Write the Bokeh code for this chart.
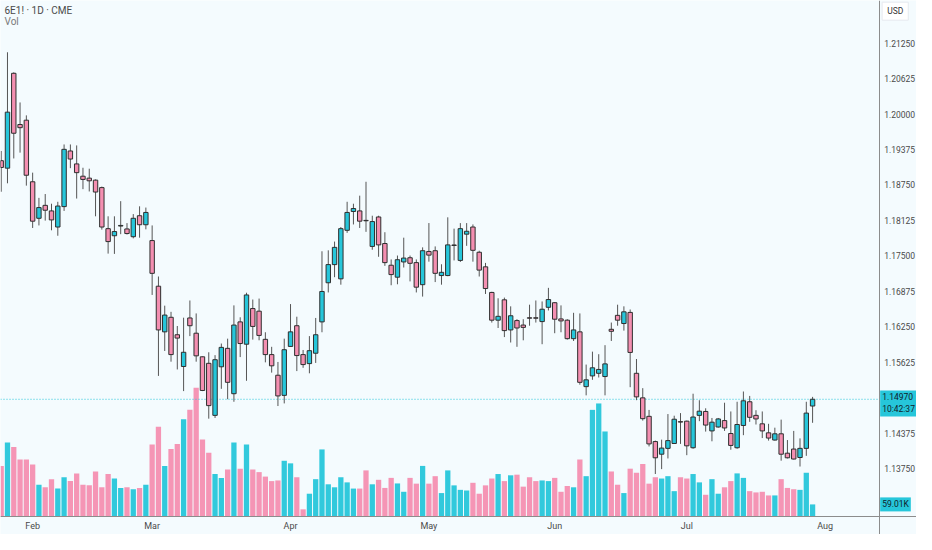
from bokeh.plotting import figure
from bokeh.models import ColumnDataSource, Range1d, FixedTicker, PrintfTickFormatter, Label
from bokeh.embed import file_html
from bokeh.resources import INLINE

# ---- data ----
opens = [
1.19178, 1.19046, 1.20719, 1.19816, 1.19892, 1.18806, 1.18162, 1.18390, 1.18292, 1.18008,
1.18368, 1.19349, 1.19121, 1.18904, 1.18870, 1.18835, 1.18703, 1.17979, 1.17854, 1.18025,
1.17974, 1.17837, 1.18207, 1.18048, 1.17769, 1.16964, 1.16159, 1.16416, 1.16108, 1.15548,
1.16404, 1.16135, 1.15719, 1.15604, 1.14686, 1.15543, 1.15868, 1.15068, 1.16335, 1.15941,
1.16570, 1.16524, 1.16027, 1.15758, 1.15394, 1.15039, 1.15902, 1.16267, 1.15758, 1.15599,
1.15782, 1.16335, 1.17025, 1.17345, 1.17094, 1.17950, 1.18282, 1.18292, 1.18125, 1.17666,
1.18185, 1.17717, 1.17334, 1.17123, 1.17392, 1.17466, 1.17380, 1.16991, 1.17577, 1.17590,
1.17152, 1.17152, 1.17683, 1.17419, 1.17882, 1.18008, 1.17563, 1.17306, 1.16854, 1.16365,
1.16724, 1.16193, 1.16358, 1.16279, 1.16407, 1.16407, 1.16340, 1.16592, 1.16673, 1.16387,
1.16365, 1.16039, 1.16159, 1.15193, 1.15382, 1.15428, 1.15371, 1.16204, 1.16450, 1.16306,
1.16502, 1.15428, 1.14995, 1.14669, 1.14224, 1.14001, 1.14104, 1.14190, 1.14575, 1.14584,
1.14115, 1.14686, 1.14755, 1.14412, 1.14481, 1.14594, 1.14366, 1.14115, 1.14508, 1.14926,
1.14686, 1.14537, 1.14378, 1.14251, 1.14361, 1.14019, 1.14092, 1.13943, 1.14104, 1.14851,
]
highs = [
1.19349, 1.21090, 1.20736, 1.20205, 1.19977, 1.18967, 1.18522, 1.18590, 1.18419, 1.18453,
1.19464, 1.19464, 1.19447, 1.19053, 1.19036, 1.18847, 1.18721, 1.18197, 1.18197, 1.18464,
1.18077, 1.18236, 1.18373, 1.18351, 1.18036, 1.17135, 1.16621, 1.16512, 1.16262, 1.16409,
1.16712, 1.16484, 1.15724, 1.15799, 1.15748, 1.15953, 1.16039, 1.16626, 1.16416, 1.16849,
1.16729, 1.16746, 1.16152, 1.15895, 1.15628, 1.16039, 1.16649, 1.16426, 1.15839, 1.16084,
1.16404, 1.17580, 1.17597, 1.17751, 1.18008, 1.18453, 1.18419, 1.18561, 1.18806, 1.18207,
1.18207, 1.17916, 1.17436, 1.17505, 1.17820, 1.17505, 1.17436, 1.17649, 1.18078, 1.17666,
1.17351, 1.18179, 1.17979, 1.18077, 1.18077, 1.18053, 1.17590, 1.17375, 1.16866, 1.16751,
1.16763, 1.16609, 1.16382, 1.16382, 1.16638, 1.16712, 1.16695, 1.16935, 1.16683, 1.16626,
1.16382, 1.16495, 1.16484, 1.15582, 1.15810, 1.15765, 1.15924, 1.16323, 1.16638, 1.16609,
1.16553, 1.15680, 1.15166, 1.14782, 1.14241, 1.14258, 1.14709, 1.14680, 1.14726, 1.14594,
1.15068, 1.14953, 1.14811, 1.14640, 1.14640, 1.14909, 1.14755, 1.14926, 1.15107, 1.15029,
1.14777, 1.14755, 1.14537, 1.14469, 1.14611, 1.14251, 1.14412, 1.14280, 1.14926, 1.15012,
]
lows = [
1.18630, 1.18779, 1.19217, 1.19320, 1.18738, 1.17991, 1.18036, 1.18121, 1.17950, 1.17854,
1.18292, 1.19046, 1.18510, 1.18676, 1.18635, 1.18197, 1.17962, 1.17539, 1.17534, 1.17882,
1.17876, 1.17808, 1.17820, 1.17967, 1.16810, 1.15382, 1.15822, 1.15633, 1.15496, 1.15114,
1.16084, 1.15633, 1.15114, 1.14628, 1.14640, 1.15154, 1.14971, 1.14926, 1.15714, 1.15296,
1.16022, 1.16010, 1.15621, 1.15440, 1.14851, 1.14897, 1.15895, 1.15467, 1.15525, 1.15428,
1.15611, 1.16152, 1.16854, 1.17123, 1.16991, 1.17905, 1.18053, 1.17991, 1.17923, 1.17607,
1.17483, 1.17323, 1.16981, 1.16998, 1.17294, 1.17049, 1.16854, 1.16781, 1.17397, 1.17037,
1.16991, 1.17140, 1.17419, 1.17392, 1.17676, 1.17397, 1.17135, 1.16827, 1.16323, 1.16227,
1.16067, 1.15971, 1.15895, 1.16010, 1.16267, 1.16323, 1.15941, 1.16536, 1.16135, 1.16152,
1.16022, 1.15998, 1.15227, 1.15039, 1.15313, 1.15354, 1.15039, 1.15998, 1.16267, 1.16181,
1.15183, 1.14954, 1.14594, 1.14138, 1.13652, 1.13738, 1.13926, 1.14183, 1.14183, 1.13984,
1.14097, 1.14584, 1.14400, 1.14229, 1.14469, 1.14412, 1.14080, 1.14097, 1.14337, 1.14572,
1.14525, 1.14286, 1.14241, 1.14241, 1.13887, 1.13926, 1.13909, 1.13784, 1.13972, 1.14555,
]
closes = [
1.19058, 1.20034, 1.19662, 1.19760, 1.18921, 1.18111, 1.18351, 1.18304, 1.18133, 1.18378,
1.19378, 1.19207, 1.18967, 1.18847, 1.18823, 1.18625, 1.18008, 1.17751, 1.17928, 1.18036,
1.17893, 1.18162, 1.18048, 1.18265, 1.17191, 1.16193, 1.16455, 1.15758, 1.16049, 1.15799,
1.16267, 1.15736, 1.15125, 1.14858, 1.15668, 1.15885, 1.15269, 1.16279, 1.15953, 1.16810,
1.16255, 1.16096, 1.15758, 1.15560, 1.15029, 1.15844, 1.16159, 1.15741, 1.15582, 1.15827,
1.16108, 1.16871, 1.17345, 1.17649, 1.17979, 1.18265, 1.18334, 1.18111, 1.18118, 1.18104,
1.17693, 1.17380, 1.17169, 1.17431, 1.17460, 1.17368, 1.16947, 1.17590, 1.17512, 1.17191,
1.17209, 1.17693, 1.17691, 1.17979, 1.17933, 1.17597, 1.17248, 1.16923, 1.16365, 1.16433,
1.16181, 1.16443, 1.16227, 1.16238, 1.16400, 1.16400, 1.16558, 1.16729, 1.16382, 1.16352,
1.16039, 1.16193, 1.15269, 1.15313, 1.15525, 1.15496, 1.15594, 1.16169, 1.16365, 1.16512,
1.15796, 1.15012, 1.14628, 1.14183, 1.13938, 1.14109, 1.14241, 1.14618, 1.14568, 1.14149,
1.14657, 1.14760, 1.14515, 1.14566, 1.14623, 1.14464, 1.14156, 1.14525, 1.14943, 1.14652,
1.14623, 1.14412, 1.14286, 1.14361, 1.14001, 1.13938, 1.13916, 1.14104, 1.14726, 1.14970,
]
volumes_k = [
239, 348, 327, 269, 269, 245, 151, 139, 177, 133,
186, 168, 204, 151, 148, 213, 139, 201, 180, 136,
139, 130, 136, 151, 339, 422, 239, 318, 342, 457,
501, 604, 362, 301, 201, 183, 222, 348, 226, 339,
222, 210, 189, 168, 171, 263, 251, 186, 36, 109,
177, 316, 153, 139, 186, 162, 133, 133, 218, 153,
174, 136, 183, 157, 118, 183, 156, 239, 156, 191,
112, 218, 148, 127, 124, 160, 109, 148, 180, 201,
168, 195, 198, 142, 186, 168, 171, 168, 183, 118,
145, 139, 269, 191, 501, 531, 400, 213, 151, 112,
226, 207, 248, 156, 186, 180, 191, 121, 186, 180,
201, 162, 104, 177, 109, 139, 168, 204, 183, 121,
115, 118, 101, 101, 177, 136, 130, 127, 207, 59.01,
]
month_labels = ["Feb", "Mar", "Apr", "May", "Jun", "Jul", "Aug"]
month_bar_index = [5, 24, 46, 68, 88, 109, 131]
price_ticks = [1.13750, 1.14375, 1.15625, 1.16250, 1.16875, 1.17500,
               1.18125, 1.18750, 1.19375, 1.20000, 1.20625, 1.21250]
last_price = 1.14970
last_volume_label = "59.01K"
countdown = "10:42:37"
title_text = "6E1! · 1D · CME"

# ---- styling ----
BG = "#f4fbfe"
UP = "#26c6da"
DOWN = "#f48fb1"
FONT = "Roboto"

n = len(closes)
xs = list(range(n))
up = [c >= o for o, c in zip(opens, closes)]
src = ColumnDataSource(dict(
    x=xs, open=opens, high=highs, low=lows, close=closes,
    top=[max(o, c) for o, c in zip(opens, closes)],
    bottom=[min(o, c) for o, c in zip(opens, closes)],
    color=[UP if u else DOWN for u in up],
    vol=volumes_k,
))

# ranges span the bar area plus the price-scale strip (right) and time strip (bottom)
X0, X_SCALE, X_END = -0.11, 139.58, 145.52
Y_TOP, Y_TIME, Y_BOTTOM = 1.22003, 1.12894, 1.12585
p = figure(width=916, height=534, output_backend="svg", toolbar_location=None,
           x_range=Range1d(X0, X_END), y_range=Range1d(Y_BOTTOM, Y_TOP),
           y_axis_location="right", x_axis_location="below",
           background_fill_color=BG, border_fill_color=BG,
           outline_line_color=None, min_border_left=0, min_border_right=0,
           min_border_top=0, min_border_bottom=0)
p.extra_y_ranges = {"vol": Range1d(-81.7, 2415)}
p.xgrid.visible = False
p.ygrid.visible = False

# volume bars
p.vbar(x="x", width=0.84, top="vol", bottom=0, source=src, y_range_name="vol",
       fill_color="color", line_color=None, fill_alpha=0.95)

# current price line (dotted) up to the price scale
p.segment(x0=[X0], y0=[last_price], x1=[X_SCALE], y1=[last_price],
          line_color=UP, line_dash="1 2", line_width=1)

# candles
p.segment(x0="x", y0="high", x1="x", y1="low", source=src, line_color="#555555", line_width=1)
p.vbar(x="x", width=0.7, top="top", bottom="bottom", source=src,
       fill_color="color", line_color="#2f2f2f", line_width=1)

# price axis, drawn at the scale boundary
ya = p.yaxis[0]
ya.fixed_location = X_SCALE
ya.ticker = FixedTicker(ticks=price_ticks)
ya.formatter = PrintfTickFormatter(format="%.5f")
ya.axis_line_color = "#8c8c8c"
ya.major_tick_line_color = None
ya.minor_tick_line_color = None
ya.major_tick_out = 0
ya.minor_tick_out = 0
ya.major_tick_in = 0
ya.major_label_text_font = FONT
ya.major_label_text_font_size = "8.5px"
ya.major_label_text_color = "#4a4a4a"
ya.major_label_standoff = 5

# time axis, drawn at the bottom of the bar area
xa = p.xaxis[0]
xa.fixed_location = Y_TIME
xa.ticker = FixedTicker(ticks=month_bar_index)
xa.major_label_overrides = {i: m for i, m in zip(month_bar_index, month_labels)}
xa.axis_line_color = "#8c8c8c"
xa.major_tick_line_color = None
xa.minor_tick_line_color = None
xa.major_tick_out = 0
xa.minor_tick_out = 0
xa.major_tick_in = 0
xa.major_label_text_font = FONT
xa.major_label_text_font_size = "9px"
xa.major_label_text_color = "#4a4a4a"
xa.major_label_standoff = 4

# header texts
p.add_layout(Label(x=X0, y=1.21823, x_offset=4, text=title_text, text_font=FONT,
                   text_font_size="10px", text_color="#4a4a4a", text_baseline="middle"))
p.add_layout(Label(x=X0, y=1.21626, x_offset=4, text="Vol", text_font=FONT,
                   text_font_size="10px", text_color="#7a7a7a", text_baseline="middle"))

# price scale badges
p.add_layout(Label(x=X_SCALE, y=1.21815, x_offset=3, text="USD", text_font=FONT,
                   text_font_size="8.5px", text_color="#333333", text_baseline="middle",
                   background_fill_color="#ffffff", border_line_color="#e6e9ef",
                   padding=(5, 4)))
p.add_layout(Label(x=X_SCALE, y=1.14897, x_offset=1, text=f"{last_price:.5f}\n{countdown}",
                   text_font=FONT, text_font_size="8.5px", text_color="#10222a",
                   text_baseline="middle", background_fill_color=UP, padding=2))
p.add_layout(Label(x=X_SCALE, y=volumes_k[-1], y_range_name="vol", x_offset=1,
                   text=last_volume_label, text_font=FONT, text_font_size="8.5px",
                   text_color="#10222a", text_baseline="middle",
                   background_fill_color=UP, padding=2))

open("out.html", "w").write(file_html(p, INLINE))
